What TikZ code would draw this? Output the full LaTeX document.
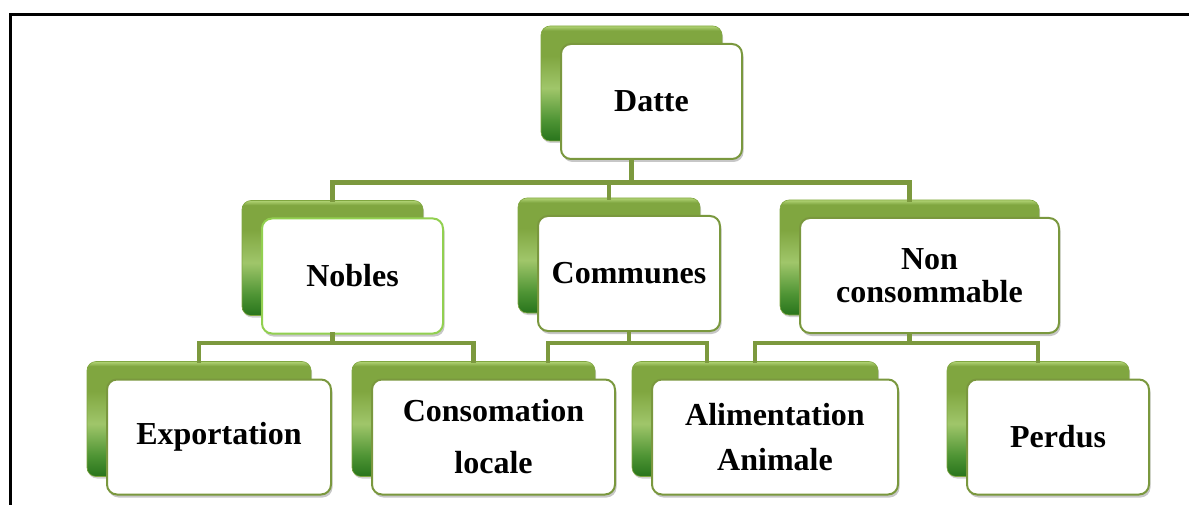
\documentclass[tikz,border=0pt]{standalone}
\usepackage{fontspec}
\setmainfont{Liberation Serif}
\usetikzlibrary{shadows,calc}
\definecolor{connC}{RGB}{124,153,62}
\definecolor{edgeC}{RGB}{122,152,62}
\definecolor{edgeL}{RGB}{146,208,80}
\definecolor{gBot}{RGB}{40,116,28}
\definecolor{gLow}{RGB}{78,148,52}
\definecolor{gMid}{RGB}{160,198,106}
\definecolor{gUp}{RGB}{128,166,64}
\definecolor{gTop}{RGB}{178,212,118}
\pgfdeclareverticalshading{backshade}{100bp}{color(0bp)=(gBot); color(25bp)=(gBot); color(34bp)=(gLow); color(48bp)=(gMid); color(62bp)=(gUp); color(73bp)=(gUp); color(75bp)=(gTop); color(100bp)=(gTop)}
\tikzset{
  backbox/.style={shade, shading=backshade, rounded corners=9pt, draw=gUp, line width=0.6pt,
    minimum width=#1, minimum height=115pt, inner sep=0pt,
    drop shadow={shadow xshift=1pt, shadow yshift=-2pt, fill=black, opacity=0.18}},
  frontbox/.style={fill=white, draw=edgeC, line width=2pt, rounded corners=10pt,
    minimum width=#1, minimum height=115pt, inner sep=2pt, align=center,
    font=\bfseries\fontsize{32}{33}\selectfont,
    drop shadow={shadow xshift=1.5pt, shadow yshift=-3pt, fill=black, opacity=0.22}},
  conn/.style={draw=connC, line width=4.5pt, line join=miter, line cap=rect},
}
\begin{document}
\begin{tikzpicture}[x=1pt,y=-1pt]
\useasboundingbox (0,0) rectangle (1189,505);
% frame
\draw[line width=3pt, line cap=rect] (10.5,505) -- (10.5,14.5) -- (1189,14.5);

% level 0
\node[backbox=181pt] (datteB) at (631.5,83.5) {};
\node[frontbox=181pt] (datte) at (651.5,101.5) {Datte};

% level 1
\node[backbox=181pt] (noblesB) at (332.5,258) {};
\node[frontbox=181pt, draw=edgeL] (nobles) at (352.5,276) {Nobles};
\node[backbox=182pt] (communesB) at (609,255.5) {};
\node[frontbox=182pt] (communes) at (629,273.5) {Communes};
\node[backbox=259pt] (nonB) at (909.5,257.5) {};
\node[frontbox=259pt] (non) at (929.5,275.5) {Non\\consommable};

% level 2
\node[backbox=224pt] (exportB) at (199,419) {};
\node[frontbox=224pt] (export) at (219,437) {Exportation};
\node[backbox=243pt] (consB) at (473.5,419) {};
\node[frontbox=243pt] (cons) at (493.5,437) {Consomation\\[19pt]locale};
\node[backbox=246pt] (alimB) at (755,419) {};
\node[frontbox=246pt] (alim) at (775,437) {Alimentation\\[12pt]Animale};
\node[backbox=182pt] (perdusB) at (1038,419) {};
\node[frontbox=182pt] (perdus) at (1058,437) {Perdus};

% bar levels and free ends
\coordinate (topbar) at (0,182.5);
\coordinate (lowbar) at (0,343);
\coordinate (cL) at (548,361);
\coordinate (cR) at (707,361);

% connectors level 0 -> 1
\draw[conn] (datte.south -| datteB.north) -- (datteB.north |- topbar);
\draw[conn] (noblesB.north) -- (noblesB.north |- topbar) -- (nonB.north |- topbar) -- (nonB.north);
\draw[conn] (communesB.north) -- (communesB.north |- topbar);

% connectors level 1 -> 2
\draw[conn] (nobles.south -| noblesB.north) -- (noblesB.north |- lowbar);
\draw[conn] (exportB.north) -- (exportB.north |- lowbar) -- (consB.north |- lowbar) -- (consB.north);
\draw[conn] (communes.south) -- (communes.south |- lowbar);
\draw[conn] (cL) -- (cL |- lowbar) -- (cR |- lowbar) -- (cR);
\draw[conn] (non.south -| nonB.north) -- (nonB.north |- lowbar);
\draw[conn] (alimB.north) -- (alimB.north |- lowbar) -- (perdusB.north |- lowbar) -- (perdusB.north);
\end{tikzpicture}
\end{document}
